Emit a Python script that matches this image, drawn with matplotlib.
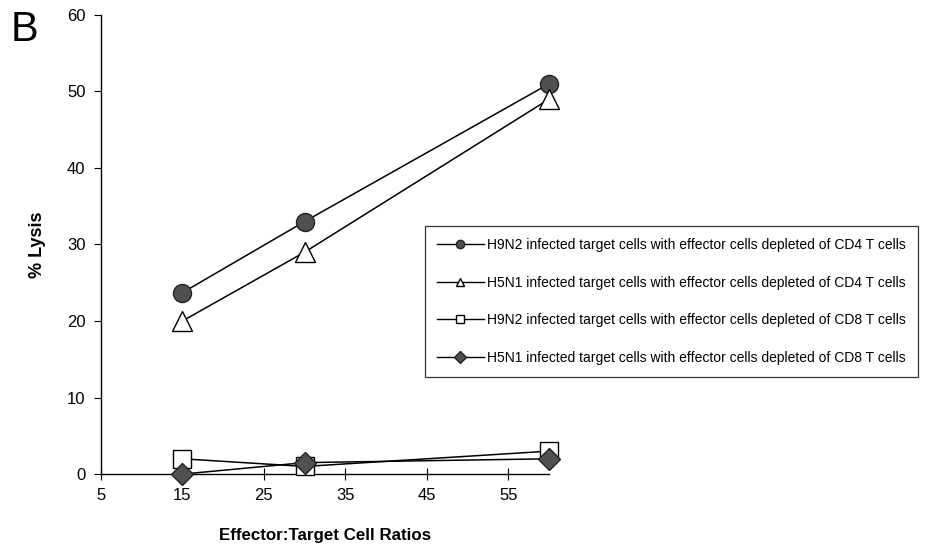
import matplotlib
matplotlib.use("Agg")
import matplotlib.pyplot as plt
from matplotlib.lines import Line2D

plt.rcParams['font.family'] = ['Liberation Sans', 'DejaVu Sans']

ratios = [15, 30, 60]
h9n2_cd4 = [23.7, 33.0, 51.0]
h5n1_cd4 = [20.0, 29.0, 49.0]
h9n2_cd8 = [2.0, 1.0, 3.0]
h5n1_cd8 = [0.0, 1.5, 2.0]

labels = [
    "H9N2 infected target cells with effector cells depleted of CD4 T cells",
    "H5N1 infected target cells with effector cells depleted of CD4 T cells",
    "H9N2 infected target cells with effector cells depleted of CD8 T cells",
    "H5N1 infected target cells with effector cells depleted of CD8 T cells",
]
xticks = [5, 15, 25, 35, 45, 55]
yticks = [0, 10, 20, 30, 40, 50, 60]

fig = plt.figure(figsize=(9.34, 5.5), dpi=100)
ax = fig.add_axes([0.108, 0.138, 0.48, 0.835])

styles = [
    dict(marker='o', mfc='#505050', mec='#222222', ms=13),
    dict(marker='^', mfc='white', mec='black', ms=15),
    dict(marker='s', mfc='white', mec='black', ms=13),
    dict(marker='D', mfc='#505050', mec='#222222', ms=11),
]
series = [h9n2_cd4, h5n1_cd4, h9n2_cd8, h5n1_cd8]
for ys, st in zip(series, styles):
    ax.plot(ratios, ys, color='black', lw=1.1, clip_on=False, zorder=3, **st)

ax.set_xlim(5, 60)
ax.set_ylim(0, 60)
ax.set_xticks(xticks)
ax.set_yticks(yticks)
for s in ['top', 'right']:
    ax.spines[s].set_visible(False)
ax.spines['left'].set_linewidth(1.0)
ax.spines['bottom'].set_linewidth(1.0)
ax.tick_params(axis='y', direction='out', length=5, labelsize=12, pad=6)
ax.tick_params(axis='x', direction='inout', length=8, labelsize=12, pad=6)

ax.set_ylabel('% Lysis', fontsize=13, fontweight='bold', labelpad=15)
ax.set_xlabel('Effector:Target Cell Ratios', fontsize=12.2, fontweight='bold', labelpad=18)

handles = []
for st in styles:
    s2 = dict(st)
    s2['ms'] = 6
    handles.append(Line2D([], [], color='black', lw=1.0, **s2))
leg = fig.legend(handles, labels, loc='lower left',
                 bbox_to_anchor=(0.455, 0.315, 0.528, 0.278), mode='expand',
                 fontsize=10, frameon=True, fancybox=False, edgecolor='black',
                 labelspacing=1.7, handlelength=3.4, handletextpad=0.25,
                 borderpad=0.85, borderaxespad=0)
leg.get_frame().set_linewidth(0.9)

fig.text(0.011, 0.925, 'B', fontsize=30)

fig.savefig('out.png', dpi=100)
